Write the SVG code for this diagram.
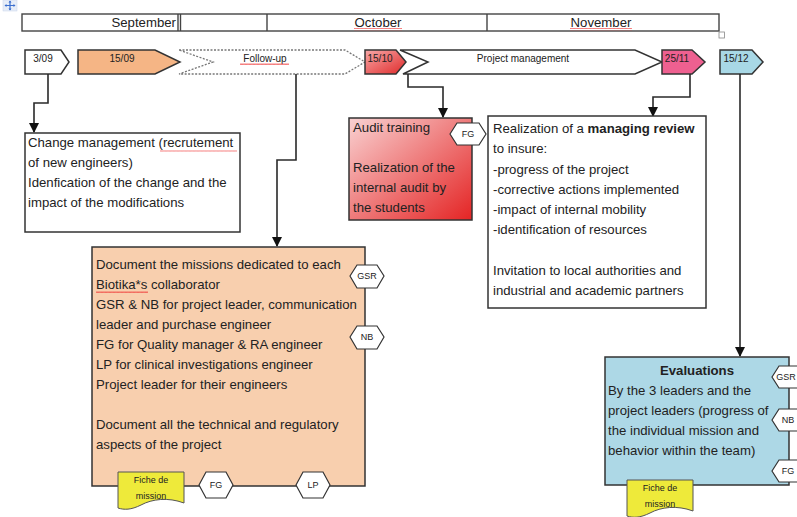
<svg xmlns="http://www.w3.org/2000/svg" width="797" height="517" viewBox="0 0 797 517">
<defs>
<style>
text{font-family:"Liberation Sans",Arial,sans-serif;fill:#222}
.t{font-size:13.2px}
.s{font-size:10px;text-anchor:middle}
.h{font-size:9px;text-anchor:middle}
.b{font-weight:bold}
.box{stroke:#333;stroke-width:1.5}
.hex{fill:#fff;stroke:#333;stroke-width:1.2}
.con{fill:none;stroke:#2a2a2a;stroke-width:1.6}
.doc{fill:#eeea3a;stroke:#555;stroke-width:1}
</style>
<marker id="arr" markerWidth="10" markerHeight="10" refX="9" refY="5" orient="auto" markerUnits="userSpaceOnUse">
<path d="M0,0 L10,5 L0,10 Z" fill="#111"/>
</marker>
<linearGradient id="red" x1="0" y1="0" x2="1" y2="1">
<stop offset="0" stop-color="#f9d2d2"/>
<stop offset="1" stop-color="#e42424"/>
</linearGradient>
<linearGradient id="red2" x1="0" y1="0" x2="1" y2="1">
<stop offset="0" stop-color="#f7a8a8"/>
<stop offset="1" stop-color="#e02a2a"/>
</linearGradient>
<pattern id="wave" width="4" height="3" patternUnits="userSpaceOnUse">
<path d="M0,2 L1,0.5 L2,2 L3,0.5 L4,2" fill="none" stroke="#e33" stroke-width="0.7"/>
</pattern>
</defs>
<rect width="797" height="517" fill="#fff"/>

<!-- table handle icon -->
<g id="handle">
<rect x="3" y="0" width="14" height="11" fill="#e6edf8" stroke="#c8d4ea" stroke-width="0.5"/>
<path d="M10,1 V10 M5,5.5 H15" stroke="#3b6fcf" stroke-width="1.2"/>
<path d="M10,0.5 L8.5,2.5 H11.5 Z M10,10.5 L8.5,8.5 H11.5 Z M4.5,5.5 L6.5,4 V7 Z M15.5,5.5 L13.5,4 V7 Z" fill="#3b6fcf"/>
</g>

<!-- month table -->
<g id="months">
<rect x="22" y="14" width="697" height="17" fill="#fff" stroke="#444" stroke-width="1.4"/>
<line x1="178" y1="14" x2="178" y2="31" stroke="#444" stroke-width="1.4"/>
<line x1="180.5" y1="14" x2="180.5" y2="31" stroke="#444" stroke-width="1.4"/>
<line x1="267" y1="14" x2="267" y2="31" stroke="#444" stroke-width="1.4"/>
<line x1="487" y1="14" x2="487" y2="31" stroke="#444" stroke-width="1.4"/>
<text class="t" x="176" y="27" text-anchor="end">September</text>
<text class="t" x="378" y="27" text-anchor="middle">October</text>
<rect x="354" y="28" width="48" height="2.5" fill="url(#wave)"/>
<text class="t" x="601" y="27" text-anchor="middle">November</text>
<rect x="570" y="28" width="62" height="2.5" fill="url(#wave)"/>
<rect x="719" y="32" width="5.5" height="6" fill="#fff" stroke="#888" stroke-width="0.8"/>
</g>

<!-- timeline shapes -->
<g id="d0309">
<path d="M25,50 H61 L69,62 L61,74 H25 Z" class="box" fill="#fff"/>
<text class="s" x="43" y="62">3/09</text>
</g>
<g id="d1509">
<path d="M78,50 H155 L180,62 L155,74 H78 Z" class="box" fill="#f5b585"/>
<text class="s" x="122" y="62">15/09</text>
</g>
<g id="followup">
<path d="M179,50 H345 L365,62 L345,74 H179 L213,62 Z" fill="#fff" stroke="#777" stroke-width="1.3" stroke-dasharray="2,1.5"/>
<text class="s" x="265" y="62">Follow-up</text>
<rect x="240" y="63" width="49" height="2.5" fill="url(#wave)"/>
</g>
<g id="d1510">
<path d="M365,50 H396 L406,62 L396,74 H365 Z" class="box" fill="url(#red2)"/>
<text class="s" x="380" y="62">15/10</text>
</g>
<g id="projmgmt">
<path d="M400,50 H635 L662,62 L635,74 H403 L428,62 Z" class="box" fill="#fff"/>
<text class="s" x="523" y="62">Project management</text>
</g>
<g id="d2511">
<path d="M662,50 H692 L705,62 L692,74 H662 Z" class="box" fill="#ee6090"/>
<text class="s" x="677" y="62">25/11</text>
</g>
<g id="d1512">
<path d="M720,50 H752 L763,62 L752,74 H720 Z" class="box" fill="#a8d8e6"/>
<text class="s" x="736" y="62">15/12</text>
</g>

<!-- connectors -->
<g id="connectors">
<polyline class="con" points="48,74 48,103 34,103 34,132" marker-end="url(#arr)"/>
<polyline class="con" points="296,74 296,160 277,160 277,246" marker-end="url(#arr)"/>
<polyline class="con" points="408,74 408,87 443,87 443,117" marker-end="url(#arr)"/>
<polyline class="con" points="690,74 690,97 653,97 653,116" marker-end="url(#arr)"/>
<polyline class="con" points="740,74 740,356" marker-end="url(#arr)"/>
</g>

<!-- change management -->
<g id="change">
<rect x="25" y="133" width="215" height="99" class="box" fill="#fff"/>
<text class="t" x="28" y="147">Change management (recrutement</text>
<rect x="160" y="149" width="77" height="2.5" fill="url(#wave)"/>
<text class="t" x="28" y="167">of new engineers)</text>
<text class="t" x="28" y="187">Idenfication of the change and the</text>
<text class="t" x="28" y="207">impact of the modifications</text>
</g>

<!-- missions box -->
<g id="missions">
<rect x="92" y="247" width="273" height="239" class="box" fill="#f8cfae"/>
<text class="t" x="96" y="269">Document the missions dedicated to each</text>
<text class="t" x="96" y="289">Biotika*s collaborator</text>
<rect x="96" y="291" width="52" height="2.5" fill="url(#wave)"/>
<text class="t" x="96" y="309">GSR &amp; NB for project leader, communication</text>
<text class="t" x="96" y="329">leader and purchase engineer</text>
<text class="t" x="96" y="349">FG for Quality manager &amp; RA engineer</text>
<text class="t" x="96" y="369">LP for clinical investigations engineer</text>
<text class="t" x="96" y="389">Project leader for their engineers</text>
<text class="t" x="96" y="429">Document all the technical and regulatory</text>
<text class="t" x="96" y="449">aspects of the project</text>
</g>
<g id="m-gsr">
<path d="M350,276 L357,265 H377 L384,276 L377,288 H357 Z" class="hex"/>
<text class="h" x="367" y="279">GSR</text>
</g>
<g id="m-nb">
<path d="M350,337 L357,326 H377 L384,337 L377,349 H357 Z" class="hex"/>
<text class="h" x="367" y="340">NB</text>
</g>
<g id="m-fiche">
<path d="M118,472 H184 V503 C168,497 152,499 141,505 C131,510 124,510 118,508 Z" class="doc"/>
<text class="h" x="151" y="483">Fiche de</text>
<text class="h" x="151" y="499">mission</text>
</g>
<g id="m-fg">
<path d="M199,485 L206,472 H226 L233,485 L226,498 H206 Z" class="hex"/>
<text class="h" x="216" y="488">FG</text>
</g>
<g id="m-lp">
<path d="M296,485 L303,472 H323 L330,485 L323,498 H303 Z" class="hex"/>
<text class="h" x="313" y="488">LP</text>
</g>

<!-- audit training -->
<g id="audit">
<rect x="349" y="118" width="123" height="102" class="box" fill="url(#red)"/>
<text class="t" x="353" y="132">Audit training</text>
<text class="t" x="353" y="172">Realization of the</text>
<text class="t" x="353" y="192">internal audit by</text>
<text class="t" x="353" y="212">the students</text>
</g>
<g id="a-fg">
<path d="M450,134 L457,123 H479 L486,134 L479,145 H457 Z" class="hex"/>
<text class="h" x="468" y="137">FG</text>
</g>

<!-- managing review -->
<g id="review">
<rect x="488" y="116" width="218" height="192" class="box" fill="#fff"/>
<text class="t" x="493" y="133">Realization of a <tspan class="b">managing review</tspan></text>
<text class="t" x="493" y="153">to insure:</text>
<text class="t" x="493" y="174">-progress of the project</text>
<text class="t" x="493" y="194">-corrective actions implemented</text>
<text class="t" x="493" y="214">-impact of internal mobility</text>
<text class="t" x="493" y="234">-identification of resources</text>
<text class="t" x="493" y="275">Invitation to local authorities and</text>
<text class="t" x="493" y="295">industrial and academic partners</text>
</g>

<!-- evaluations -->
<g id="evaluations">
<rect x="605" y="357" width="184" height="128" class="box" fill="#add8e6"/>
<text class="t b" x="697" y="375" text-anchor="middle">Evaluations</text>
<text class="t" x="608" y="395">By the 3 leaders and the</text>
<text class="t" x="608" y="415">project leaders (progress of</text>
<text class="t" x="608" y="435">the individual mission and</text>
<text class="t" x="608" y="455">behavior within the team)</text>
</g>
<g id="e-gsr">
<path d="M772,377 L779,366 H799 L806,377 L799,388 H779 Z" class="hex"/>
<text class="h" x="786" y="380" font-size="8.5">GSR</text>
</g>
<g id="e-nb">
<path d="M772,420 L779,409 H799 L806,420 L799,431 H779 Z" class="hex"/>
<text class="h" x="788" y="423">NB</text>
</g>
<g id="e-fg">
<path d="M772,471 L779,460 H799 L806,471 L799,482 H779 Z" class="hex"/>
<text class="h" x="788" y="474">FG</text>
</g>
<g id="e-fiche">
<path d="M627,480 H693 V511 C677,505 661,507 650,513 C640,518 633,518 627,516 Z" class="doc"/>
<text class="h" x="660" y="491">Fiche de</text>
<text class="h" x="660" y="507">mission</text>
</g>
</svg>
